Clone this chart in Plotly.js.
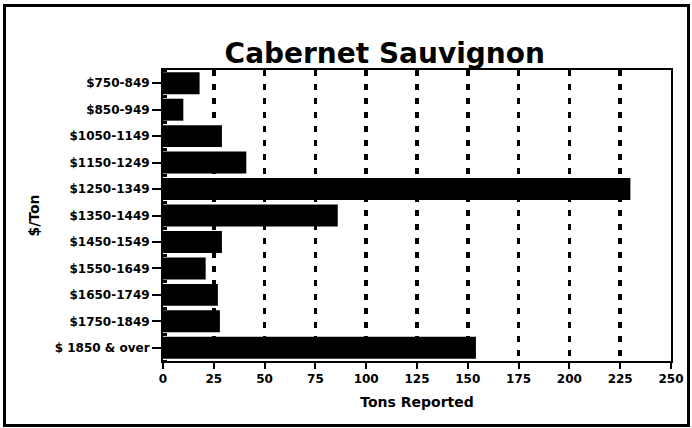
<!DOCTYPE html>
<html>
<head>
<meta charset="utf-8">
<script src="https://cdn.plot.ly/plotly-3.0.1.min.js"></script>
<style>
  html, body { margin: 0; padding: 0; background: #fff; }
  #wrap { position: relative; width: 692px; height: 428px; }
  #chart { width: 692px; height: 428px; }
  #frame { position: absolute; left: 3px; top: 4px; width: 687px; height: 423px;
           box-sizing: border-box; border: 3px solid #000; pointer-events: none; }
</style>
</head>
<body>
<div id="wrap">
  <div id="chart"></div>
  <div id="frame"></div>
</div>
<script>
const priceRanges = ["$750-849", "$850-949", "$1050-1149", "$1150-1249", "$1250-1349",
  "$1350-1449", "$1450-1549", "$1550-1649", "$1650-1749", "$1750-1849", "$ 1850 & over"];
const tonsReported = [18, 10, 29, 41, 230, 86, 29, 21, 27, 28, 154];
const xTicks = [0, 25, 50, 75, 100, 125, 150, 175, 200, 225, 250];

const font = "DejaVu Sans, Arial, sans-serif";
const rowIndex = priceRanges.map((_, i) => i);

Plotly.newPlot("chart", [{
  type: "bar",
  orientation: "h",
  x: tonsReported,
  y: rowIndex,
  width: 0.83,
  marker: { color: "#000", line: { width: 0 } },
  hoverinfo: "x"
}], {
  width: 692, height: 428,
  margin: { l: 163, r: 21, t: 70, b: 67 },
  paper_bgcolor: "#fff",
  plot_bgcolor: "#fff",
  showlegend: false,
  title: {
    text: "<b>Cabernet Sauvignon</b>",
    font: { family: font, size: 28, color: "#000" },
    x: 0.556, xanchor: "center", xref: "container",
    y: 0.875, yanchor: "middle"
  },
  xaxis: {
    range: [0, 250],
    tickvals: xTicks,
    ticktext: xTicks.map(v => "<b>" + v + "</b>"),
    ticks: "outside", ticklen: 6, tickwidth: 2, tickcolor: "#000",
    showline: true, linewidth: 2, linecolor: "#000", mirror: true,
    showgrid: true, gridcolor: "#000", gridwidth: 3.5, griddash: "6px,8px",
    zeroline: false,
    tickfont: { family: font, size: 12, color: "#000" },
    title: { text: "<b>Tons Reported</b>", font: { family: font, size: 14, color: "#000" }, standoff: 12 },
    fixedrange: true
  },
  yaxis: {
    range: [priceRanges.length - 0.5, -0.5],
    tickvals: rowIndex,
    ticktext: priceRanges.map(v => "<b>" + v + "</b>"),
    ticks: "outside", ticklen: 9, tickwidth: 2, tickcolor: "#000",
    minor: { tick0: 0.5, dtick: 1, ticks: "inside", ticklen: 4, tickwidth: 3, tickcolor: "#000", showgrid: false },
    showline: true, linewidth: 2, linecolor: "#000", mirror: true,
    showgrid: false, zeroline: false,
    tickfont: { family: font, size: 12, color: "#000" },
    title: { text: "<b>$/Ton</b>", font: { family: font, size: 14, color: "#000" }, standoff: 12 },
    fixedrange: true
  }
}, { displayModeBar: false, staticPlot: true });
</script>
</body>
</html>
